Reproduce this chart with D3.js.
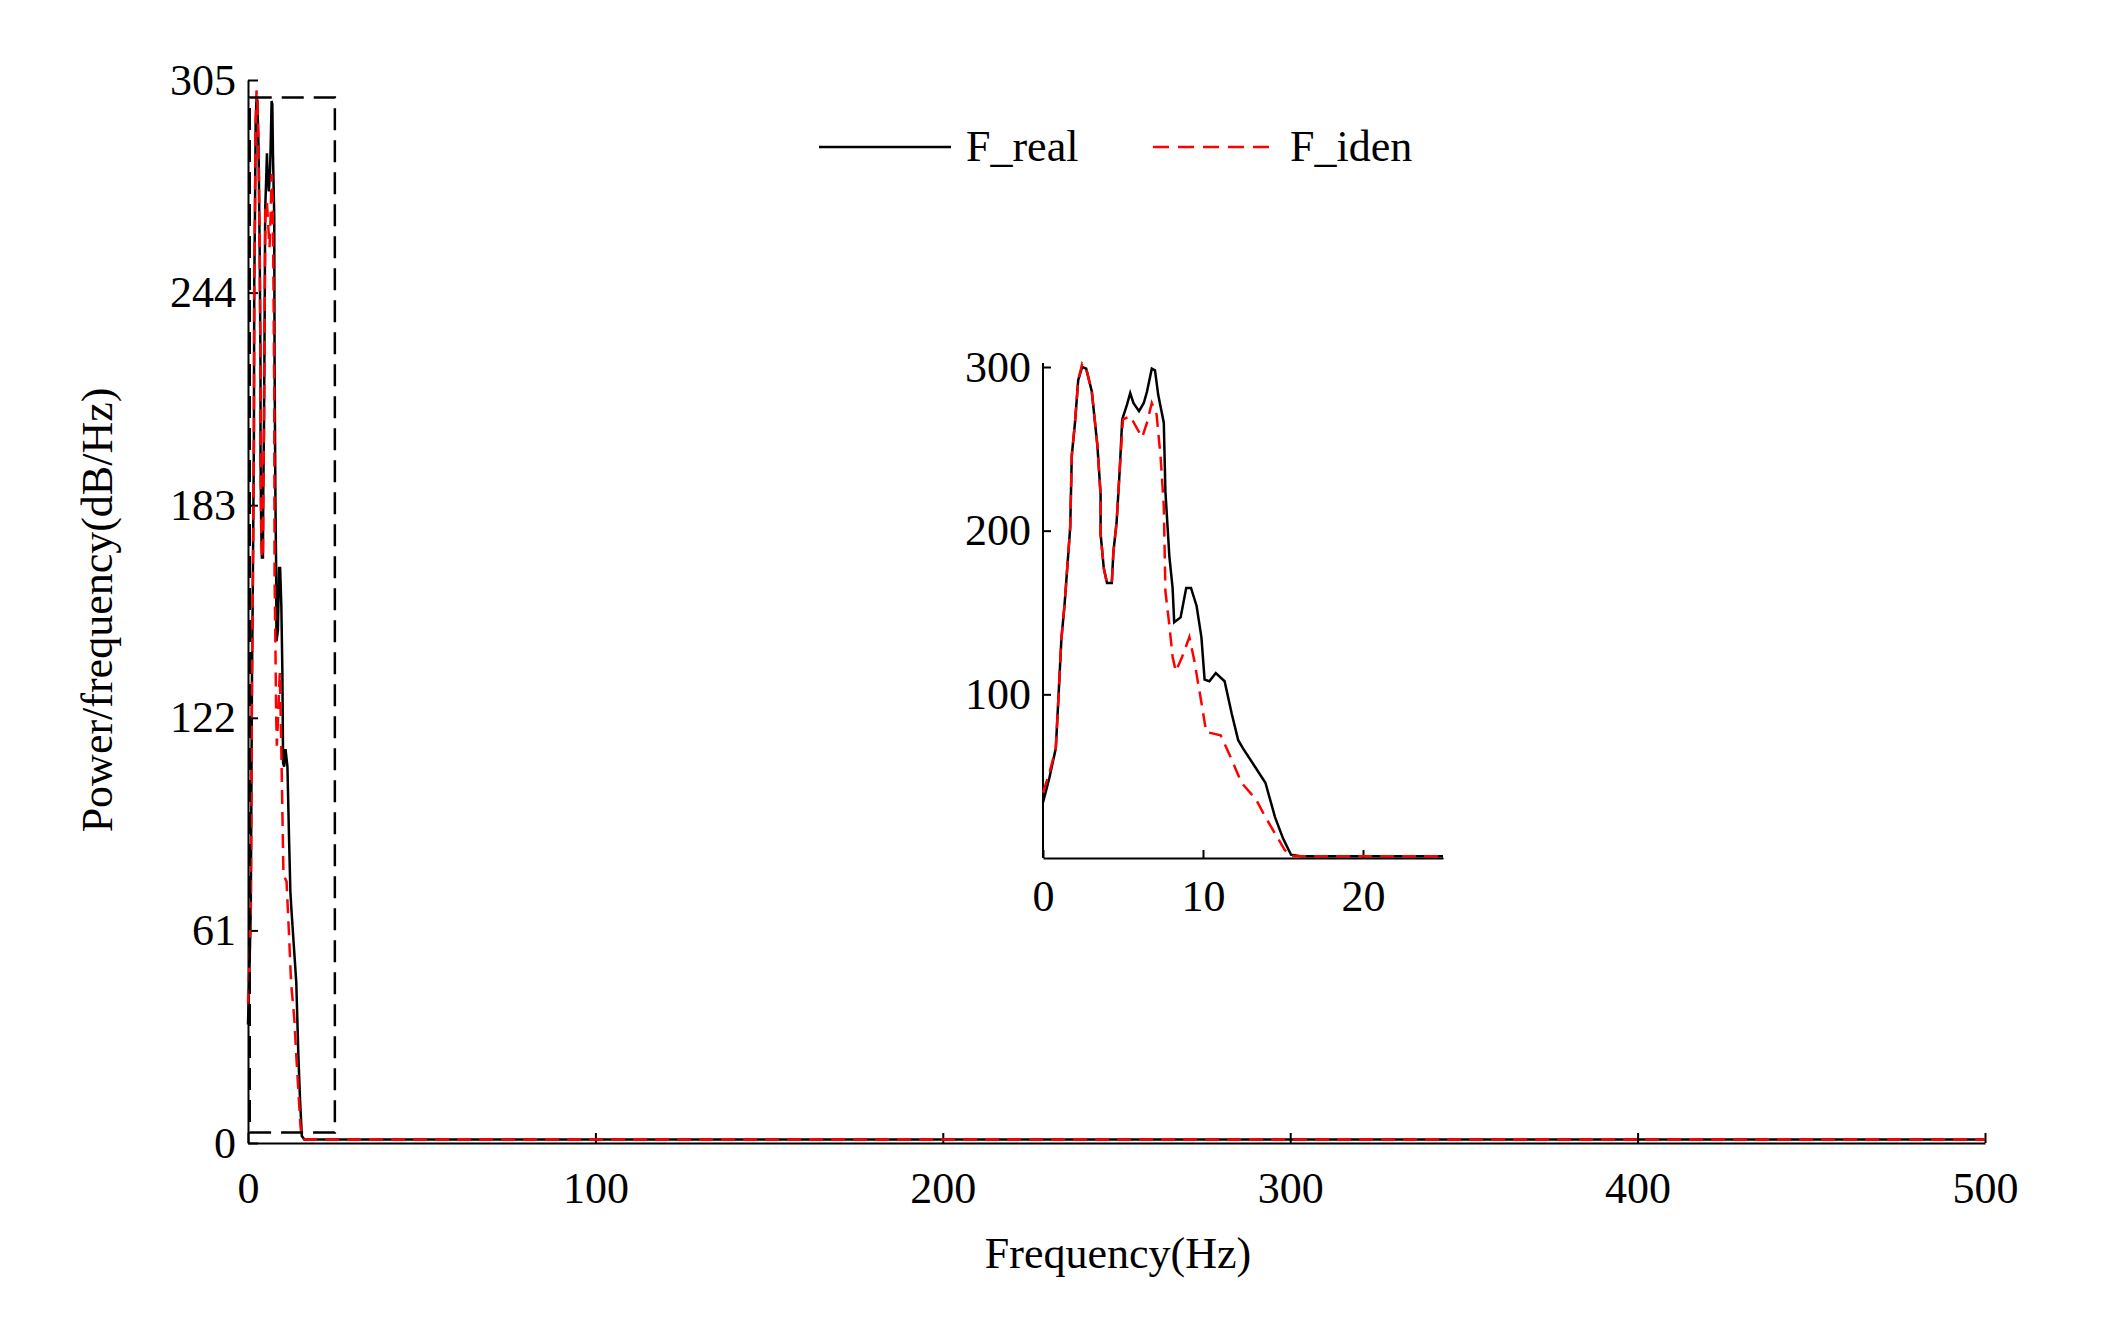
<!DOCTYPE html>
<html><head><meta charset="utf-8">
<script src="https://cdn.jsdelivr.net/npm/d3@7"></script>
<style>body{margin:0;background:#fff}svg{font-family:"Liberation Serif","DejaVu Serif",serif}</style>
</head><body><div id="chart"></div>
<script>
// frequency (Hz) and PSD values
const freqReal = [0,0.4,0.8,0.95,1.15,1.35,1.7,1.8,2.0,2.2,2.45,2.7,3.05,3.4,3.6,3.6,3.8,4.0,4.3,4.4,4.6,4.8,4.95,5.25,5.45,5.65,6.0,6.3,6.5,6.8,7.0,7.2,7.55,7.65,7.9,8.1,8.2,8.6,8.95,9.25,9.6,9.9,10.1,10.4,10.8,11.35,11.8,12.2,12.5,13.3,13.9,14.5,15.0,15.5,16.2,20,25,100,200,300,400,500];
const valReal = [34,49,67,95,134,155,202,246,266,292,300,299,285,252,222,198,177,168,168,187,205,238,268,277,284,278,273,278,285,299,298,283,266,224,184,165,144,147,165,165,154,135,109,108,113,108,88,72,67,55,46,25,12,2,1,1,1,1,1,1,1,1];
const freqIden = [0,0.4,0.8,0.95,1.15,1.35,1.7,1.8,2.0,2.2,2.45,2.7,3.05,3.4,3.6,3.6,3.8,4.0,4.3,4.4,4.6,4.8,5.0,5.45,5.9,6.2,6.5,6.8,7.1,7.35,7.55,7.65,7.9,8.1,8.3,8.7,9.15,9.45,9.9,10.2,11.1,11.8,12.4,13.3,13.9,14.5,15.1,15.5,16.2,20,25,100,200,300,400,500];
const valIden = [40,52,67,95,134,155,202,246,266,292,302,299,285,252,222,198,177,168,168,187,205,238,268,270,262,257,266,278,271,245,215,163,142,123,114,123,135,121,95,77,75,60,46,36,25,15,5,1,1,1,1,1,1,1,1,1];
const mainYTicks = [0,61,122,183,244,305];
const mainXTicks = [0,100,200,300,400,500];
const insetXTicks = [0,10,20];
const insetYTicks = [100,200,300];
const seriesNames = ["F_real","F_iden"];

const W = 2116, H = 1324, fs = 44;
const svg = d3.select("#chart").append("svg").attr("width", W).attr("height", H);

function line(x, y) { return d3.line().x((d) => x(d[0])).y((d) => y(d[1])); }
const realPts = d3.zip(freqReal, valReal), idenPts = d3.zip(freqIden, valIden);

// main axes
const x = d3.scaleLinear().domain([0, 500]).range([248, 1985]);
const y = d3.scaleLinear().domain([0, 305]).range([1143, 80]);

const gx = svg.append("g").attr("transform", `translate(0,${y(0)})`)
  .call(d3.axisBottom(x).tickValues(mainXTicks).tickSizeInner(-10).tickSizeOuter(0).tickPadding(20));
const gy = svg.append("g").attr("transform", `translate(${x(0)},0)`)
  .call(d3.axisLeft(y).tickValues(mainYTicks).tickSizeInner(-10).tickSizeOuter(0).tickPadding(12));
[gx, gy].forEach((g) => {
  g.selectAll("text").attr("font-size", fs).attr("font-family", "Liberation Serif").attr("fill", "#000");
  g.selectAll("path,line").attr("stroke", "#000").attr("stroke-width", 2);
});
gx.selectAll("text").attr("dy", "0.9em");

svg.append("path").datum(realPts).attr("d", line(x, y)).attr("fill", "none").attr("stroke", "#000").attr("stroke-width", 2.5);
svg.append("path").datum(idenPts).attr("d", line(x, y)).attr("fill", "none").attr("stroke", "#f00").attr("stroke-width", 2.5).attr("stroke-dasharray", "14,8");

// zoom box
svg.append("rect").attr("x", x(0.5)).attr("y", y(300)).attr("width", x(25) - x(0.5)).attr("height", y(3) - y(300))
  .attr("fill", "none").attr("stroke", "#000").attr("stroke-width", 2.5).attr("stroke-dasharray", "22,10");

svg.append("text").attr("x", 1118).attr("y", 1268).attr("text-anchor", "middle").attr("font-size", fs).text("Frequency(Hz)");
svg.append("text").attr("transform", "translate(112,610) rotate(-90)").attr("text-anchor", "middle").attr("font-size", fs).text("Power/frequency(dB/Hz)");

// legend
const lg = svg.append("g");
lg.append("line").attr("x1", 819).attr("x2", 951).attr("y1", 147).attr("y2", 147).attr("stroke", "#000").attr("stroke-width", 2.5);
lg.append("text").attr("x", 966).attr("y", 161).attr("font-size", fs).text(seriesNames[0]);
lg.append("line").attr("x1", 1153).attr("x2", 1276).attr("y1", 147).attr("y2", 147).attr("stroke", "#f00").attr("stroke-width", 2.5).attr("stroke-dasharray", "16,9");
lg.append("text").attr("x", 1290).attr("y", 161).attr("font-size", fs).text(seriesNames[1]);

// inset
const xi = d3.scaleLinear().domain([0, 25]).range([1043, 1443]);
const yi = d3.scaleLinear().domain([0, 300]).range([858, 367]);
const ix = svg.append("g").attr("transform", `translate(0,${yi(0)})`)
  .call(d3.axisBottom(xi).tickValues(insetXTicks).tickSizeInner(-8).tickSizeOuter(0).tickPadding(18));
const iy = svg.append("g").attr("transform", `translate(${xi(0)},0)`)
  .call(d3.axisLeft(yi).tickValues(insetYTicks).tickSizeInner(-8).tickSizeOuter(0).tickPadding(12));
[ix, iy].forEach((g) => {
  g.selectAll("text").attr("font-size", fs).attr("font-family", "Liberation Serif").attr("fill", "#000");
  g.selectAll("path,line").attr("stroke", "#000").attr("stroke-width", 2);
});
ix.selectAll("text").attr("dy", "0.8em");
iy.select(".domain").attr("d", `M0,${yi(300) - 4}V${yi(0)}`);

const clip = (pts) => pts.filter((d) => d[0] <= 25);
svg.append("path").datum(clip(realPts)).attr("d", line(xi, yi)).attr("fill", "none").attr("stroke", "#000").attr("stroke-width", 2.5);
svg.append("path").datum(clip(idenPts)).attr("d", line(xi, yi)).attr("fill", "none").attr("stroke", "#f00").attr("stroke-width", 2.5).attr("stroke-dasharray", "14,8");
</script></body></html>
